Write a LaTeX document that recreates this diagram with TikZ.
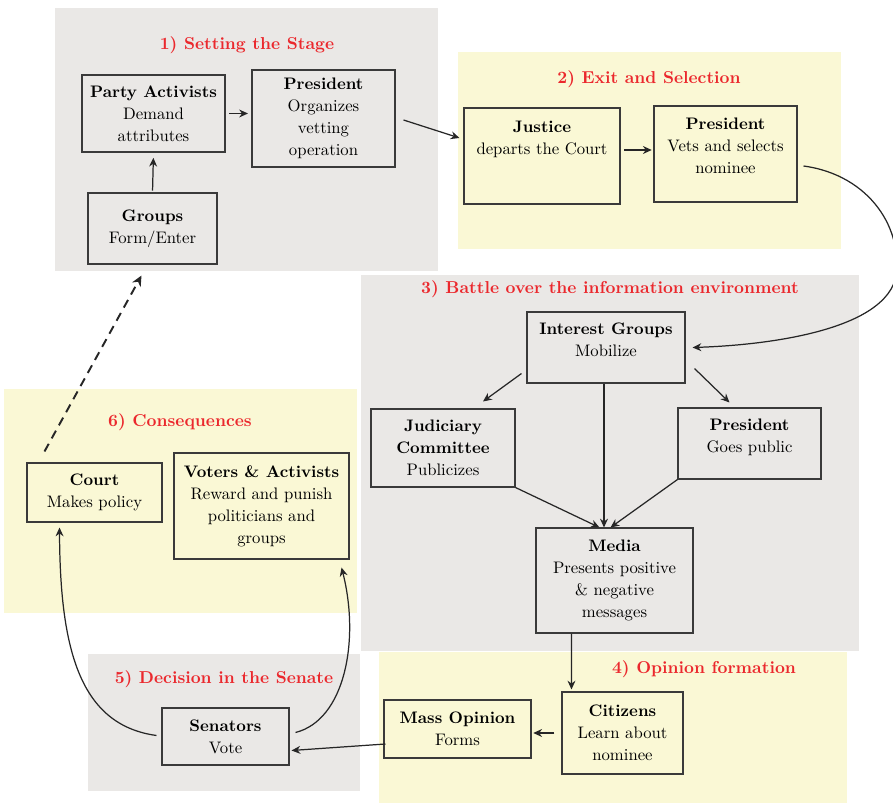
\documentclass[tikz,border=0pt]{standalone}
\usetikzlibrary{arrows.meta,calc}
\definecolor{panelgray}{HTML}{EAE8E6}
\definecolor{panelyellow}{HTML}{FAF8D5}
\definecolor{stagered}{HTML}{EB282D}
\definecolor{boxline}{HTML}{3A3A3A}

\begin{document}
\begin{tikzpicture}[x=0.02cm, y=-0.02cm,
  >={Stealth[length=5pt,width=4.5pt]},
  box/.style={draw=boxline, line width=0.6pt, align=center, inner sep=2pt,
    font=\fontsize{9.5}{12.5}\selectfont},
  stage/.style={text=stagered, font=\fontsize{9.8}{12}\selectfont\bfseries},
  flow/.style={->, line width=0.7pt, draw=black!85}]
\useasboundingbox (0,0) rectangle (893,803);

% background panels
\fill[panelgray] (55,8) rectangle (438,271);
\fill[panelyellow] (458,52) rectangle (841,249);
\fill[panelgray] (361,275) rectangle (859,651);
\fill[panelyellow] (379,652) rectangle (847,803);
\fill[panelgray] (88,654) rectangle (360,791);
\fill[panelyellow] (4,389) rectangle (357,613);

% stage titles
\node[stage] (t1) at (247,45) {1) Setting the Stage};
\node[stage] (t2) at (649,79) {2) Exit and Selection};
\node[stage] (t3) at (610,289) {3) Battle over the information environment};
\node[stage] (t4) at (704,669) {4) Opinion formation};
\node[stage] (t5) at (224,679) {5) Decision in the Senate};
\node[stage] (t6) at (180,422) {6) Consequences};

% 1) setting the stage
\node[box, minimum width=2.86cm, minimum height=1.54cm] (pa) at (153.5,113.5)
  {\textbf{Party Activists}\\Demand\\attributes};
\node[box, minimum width=2.86cm, minimum height=1.94cm] (pres1) at (323.5,118.5)
  {\textbf{President}\\Organizes\\vetting\\operation};
\node[box, minimum width=2.58cm, minimum height=1.42cm] (grp) at (152.5,228.5)
  {\textbf{Groups}\\Form/Enter};

% 2) exit and selection
\node[box, minimum width=3.12cm, minimum height=1.92cm] (just) at (542,156)
  {\textbf{Justice}\\departs the Court\\[8pt]\mbox{}};
\node[box, minimum width=2.86cm, minimum height=1.92cm] (pres2) at (725.5,154)
  {\textbf{President}\\Vets and selects\\nominee\\[-3.5pt]\mbox{}};

% 3) information environment
\node[box, minimum width=3.16cm, minimum height=1.42cm] (ig) at (606,347.5)
  {\textbf{Interest Groups}\\Mobilize\\[-3.5pt]\mbox{}};
\node[box, minimum width=2.88cm, minimum height=1.56cm] (jc) at (443,448)
  {\textbf{Judiciary}\\\textbf{Committee}\\Publicizes};
\node[box, minimum width=2.86cm, minimum height=1.42cm] (pres3) at (749.5,443.5)
  {\textbf{President}\\Goes public\\[-3.5pt]\mbox{}};
\node[box, minimum width=3.14cm, minimum height=2.1cm] (media) at (614.5,580.5)
  {\textbf{Media}\\Presents positive\\\& negative\\messages};

% 4) opinion formation
\node[box, minimum width=2.42cm, minimum height=1.64cm] (cit) at (622.5,733)
  {\textbf{Citizens}\\Learn about\\nominee};
\node[box, minimum width=2.94cm, minimum height=1.16cm] (mass) at (457.5,729)
  {\textbf{Mass Opinion}\\Forms};

% 5) senate
\node[box, minimum width=2.54cm, minimum height=1.14cm] (sen) at (225.5,736.5)
  {\textbf{Senators}\\Vote};

% 6) consequences
\node[box, minimum width=2.7cm, minimum height=1.18cm] (court) at (94.5,492.5)
  {\textbf{Court}\\Makes policy};
\node[box, minimum width=3.5cm, minimum height=2.12cm] (vot) at (261.5,506)
  {\textbf{Voters \& Activists}\\Reward and punish\\politicians and\\groups};

% connectors
\draw[flow, shorten <=1pt, shorten >=3pt] (grp.north) -- (pa.south);
\draw[flow, shorten <=2pt, shorten >=2pt] (pa.east) -- (pa.east -| pres1.west);
\draw[flow] ($(pres1.east)+(8,1.5)$) -- ($(just.west)+(-4,-18)$);
\draw[flow, shorten <=2pt, shorten >=1pt] ($(just.east)+(0,-6)$) -- ($(pres2.west)+(0,-4)$);
\draw[flow] ($(pres2.east)+(6,12)$) .. controls (870,175) and (905,230) .. (895,280)
  .. controls (880,330) and (770,345) .. ($(ig.east)+(7,0)$);
\draw[flow] ($(ig.south west)+(-5,-10)$) -- ($(jc.north)+(40,-7)$);
\draw[flow] ($(ig.south east)+(9,-15)$) -- ($(pres3.north)+(-20,-5)$);
\draw[flow] ($(ig.south)+(-2,0)$) -- ($(media.north)+(-10.5,0)$);
\draw[flow] (jc.south east) -- ($(media.north)+(-15,0)$);
\draw[flow] (pres3.south west) -- ($(media.north)+(-4,0)$);
\draw[flow] ($(media.south west)+(36,0)$) -- ($(cit.north west)+(10,-2)$);
\draw[flow, shorten <=4pt, shorten >=1pt] (cit.west) -- (cit.west -| mass.east);
\draw[flow] ($(mass.west)+(2,15)$) -- ($(sen.east)+(2,14)$);
\draw[flow] ($(sen.west)+(-5,-1)$) .. controls (80,725) and (60,650) .. ($(court.south)+(-35,5)$);
\draw[flow] ($(sen.east)+(6,-4)$) .. controls (345,720) and (360,640) .. ($(vot.south east)+(-8,8)$);
\draw[->, line width=1.1pt, draw=black!85, dash pattern=on 5pt off 3.5pt,
  >={Stealth[length=6pt,width=5.5pt]}]
  ($(court.north west)+(18,-11)$) -- ($(grp.south west)+(54,11)$);
\end{tikzpicture}
\end{document}
